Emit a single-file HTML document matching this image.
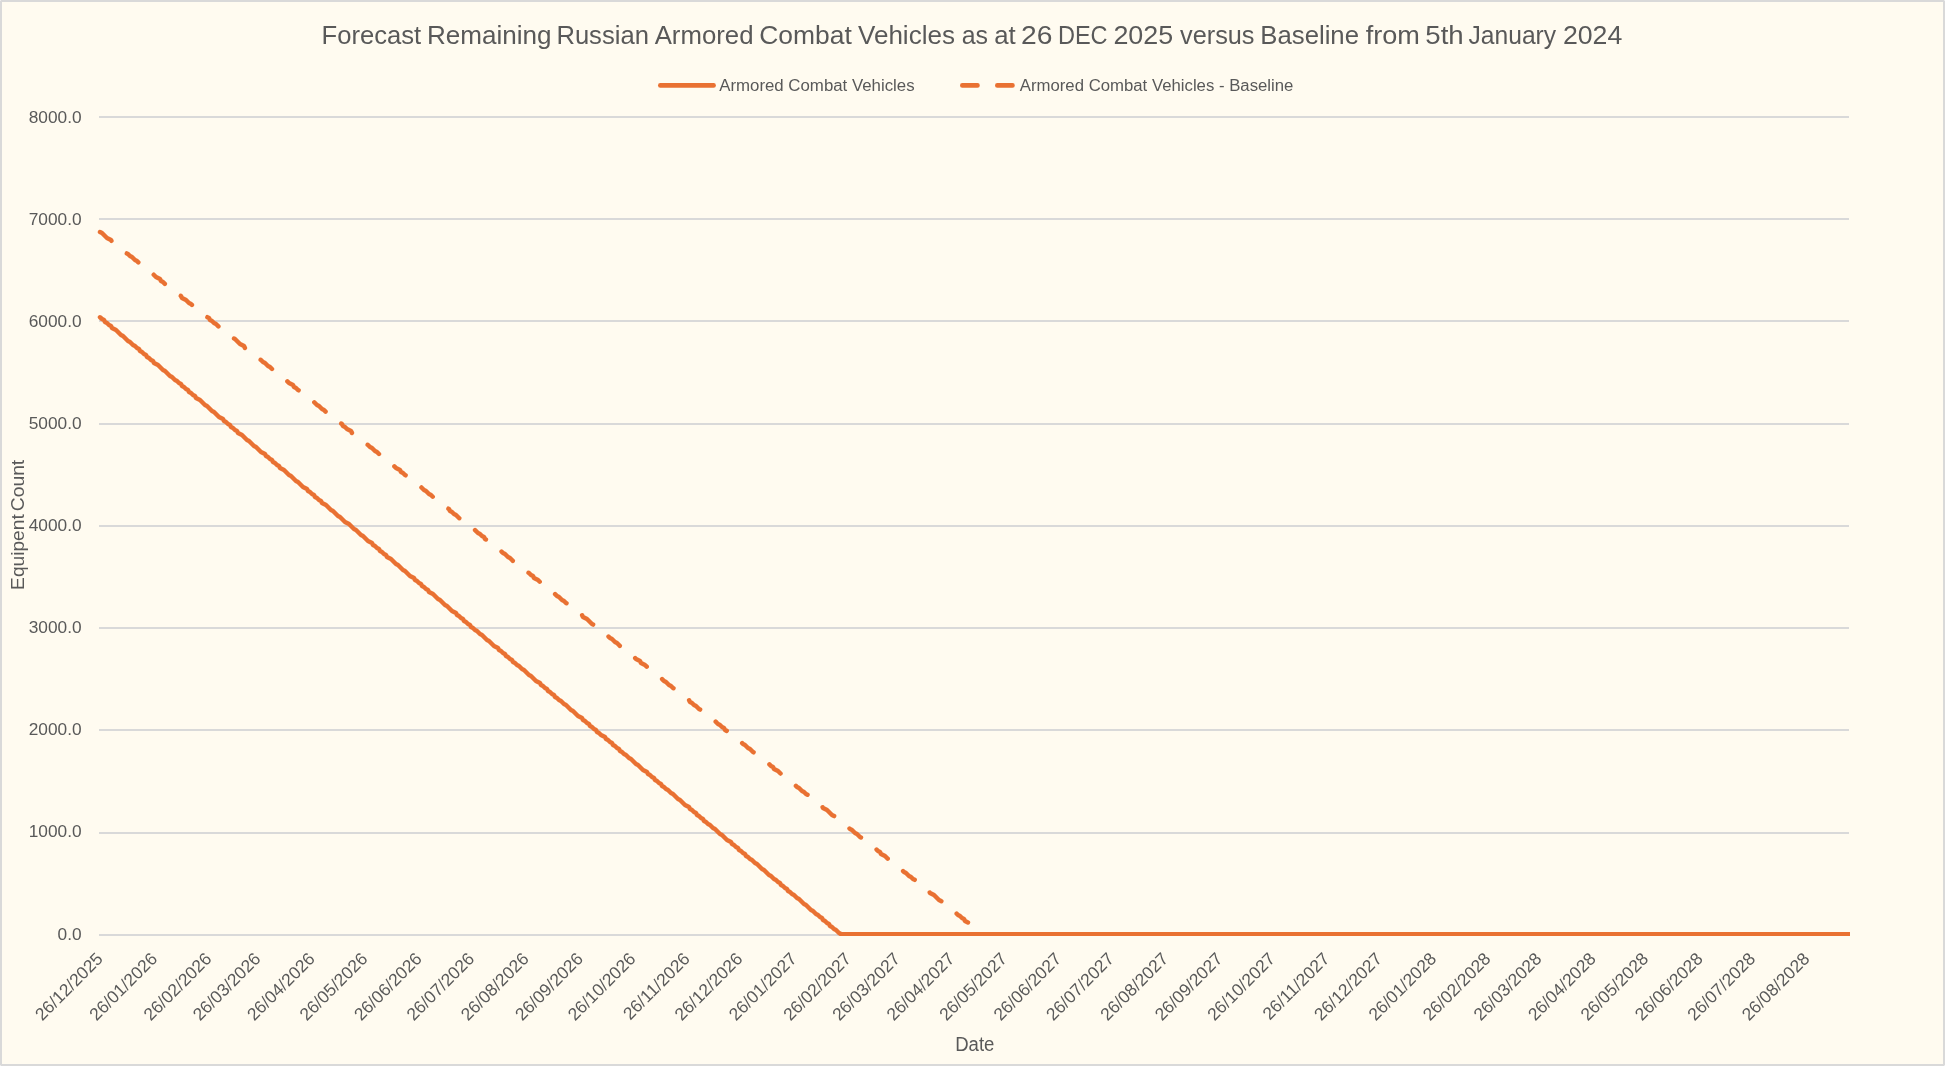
<!DOCTYPE html>
<html lang="en"><head><meta charset="utf-8">
<title>Forecast Remaining Russian Armored Combat Vehicles</title>
<style>
html,body{margin:0;padding:0;background:#FFFBF0;}
body{width:1945px;height:1066px;overflow:hidden;}
svg{display:block;will-change:transform;}
text{font-family:"Liberation Sans", Arial, sans-serif;fill:#595959;}
</style></head><body>
<svg width="1945" height="1066" viewBox="0 0 1945 1066">
<rect x="0" y="0" width="1945" height="1066" fill="#D9D9D9"/>
<rect x="2" y="2" width="1941" height="1062" fill="#FFFBF0"/>
<rect x="0" y="0" width="1" height="1" fill="#ECECEC"/>
<rect x="1944" y="0" width="1" height="1" fill="#ECECEC"/>
<rect x="0" y="1065" width="1" height="1" fill="#ECECEC"/>
<rect x="1944" y="1065" width="1" height="1" fill="#ECECEC"/>
<g stroke="#D9D9D9" stroke-width="2" shape-rendering="crispEdges">
<line x1="99" y1="117" x2="1849" y2="117"/>
<line x1="99" y1="219" x2="1849" y2="219"/>
<line x1="99" y1="321" x2="1849" y2="321"/>
<line x1="99" y1="424" x2="1849" y2="424"/>
<line x1="99" y1="526" x2="1849" y2="526"/>
<line x1="99" y1="628" x2="1849" y2="628"/>
<line x1="99" y1="730" x2="1849" y2="730"/>
<line x1="99" y1="833" x2="1849" y2="833"/>
<line x1="99" y1="935" x2="1849" y2="935"/>
</g>
<g font-size="17.3" text-anchor="end">
<text x="81.6" y="122.70">8000.0</text>
<text x="81.6" y="224.80">7000.0</text>
<text x="81.6" y="326.90">6000.0</text>
<text x="81.6" y="429.00">5000.0</text>
<text x="81.6" y="531.10">4000.0</text>
<text x="81.6" y="633.20">3000.0</text>
<text x="81.6" y="735.30">2000.0</text>
<text x="81.6" y="837.40">1000.0</text>
<text x="81.6" y="939.50">0.0</text>
</g>
<g font-size="17.45" text-anchor="end">
<text transform="translate(103.95 959.90) rotate(-45)">26/12/2025</text>
<text transform="translate(158.27 959.90) rotate(-45)">26/01/2026</text>
<text transform="translate(212.59 959.90) rotate(-45)">26/02/2026</text>
<text transform="translate(261.65 959.90) rotate(-45)">26/03/2026</text>
<text transform="translate(315.97 959.90) rotate(-45)">26/04/2026</text>
<text transform="translate(368.54 959.90) rotate(-45)">26/05/2026</text>
<text transform="translate(422.86 959.90) rotate(-45)">26/06/2026</text>
<text transform="translate(475.43 959.90) rotate(-45)">26/07/2026</text>
<text transform="translate(529.75 959.90) rotate(-45)">26/08/2026</text>
<text transform="translate(584.07 959.90) rotate(-45)">26/09/2026</text>
<text transform="translate(636.63 959.90) rotate(-45)">26/10/2026</text>
<text transform="translate(690.95 959.90) rotate(-45)">26/11/2026</text>
<text transform="translate(743.52 959.90) rotate(-45)">26/12/2026</text>
<text transform="translate(797.84 959.90) rotate(-45)">26/01/2027</text>
<text transform="translate(852.16 959.90) rotate(-45)">26/02/2027</text>
<text transform="translate(901.22 959.90) rotate(-45)">26/03/2027</text>
<text transform="translate(955.54 959.90) rotate(-45)">26/04/2027</text>
<text transform="translate(1008.11 959.90) rotate(-45)">26/05/2027</text>
<text transform="translate(1062.43 959.90) rotate(-45)">26/06/2027</text>
<text transform="translate(1115.00 959.90) rotate(-45)">26/07/2027</text>
<text transform="translate(1169.32 959.90) rotate(-45)">26/08/2027</text>
<text transform="translate(1223.64 959.90) rotate(-45)">26/09/2027</text>
<text transform="translate(1276.21 959.90) rotate(-45)">26/10/2027</text>
<text transform="translate(1330.53 959.90) rotate(-45)">26/11/2027</text>
<text transform="translate(1383.09 959.90) rotate(-45)">26/12/2027</text>
<text transform="translate(1437.41 959.90) rotate(-45)">26/01/2028</text>
<text transform="translate(1491.73 959.90) rotate(-45)">26/02/2028</text>
<text transform="translate(1542.55 959.90) rotate(-45)">26/03/2028</text>
<text transform="translate(1596.87 959.90) rotate(-45)">26/04/2028</text>
<text transform="translate(1649.44 959.90) rotate(-45)">26/05/2028</text>
<text transform="translate(1703.76 959.90) rotate(-45)">26/06/2028</text>
<text transform="translate(1756.32 959.90) rotate(-45)">26/07/2028</text>
<text transform="translate(1810.64 959.90) rotate(-45)">26/08/2028</text>
</g>
<path d="M100 232 L102 233 L104 235 L105 236 L107 238 L109 239 L111 240 L112 242 L114 243 L116 245 L118 246 L119 247 L121 249 L123 250 L125 252 L126 253 L128 254 L130 256 L132 257 L133 258 L135 260 L137 261 L139 263 L140 264 L142 265 L144 267 L146 268 L147 270 L149 271 L151 272 L153 274 L154 275 L156 277 L158 278 L160 279 L161 281 L163 282 L165 284 L167 285 L168 286 L170 288 L172 289 L174 291 L175 292 L177 293 L179 295 L181 296 L182 298 L184 299 L186 300 L188 302 L189 303 L191 304 L193 306 L195 307 L196 309 L198 310 L200 311 L202 313 L203 314 L205 316 L207 317 L209 318 L210 320 L212 321 L214 323 L216 324 L217 325 L219 327 L221 328 L223 330 L224 331 L226 332 L228 334 L230 335 L231 337 L233 338 L235 339 L237 341 L238 342 L240 344 L242 345 L244 346 L245 348 L247 349 L249 350 L251 352 L252 353 L254 355 L256 356 L258 357 L259 359 L261 360 L263 362 L265 363 L266 364 L268 366 L270 367 L272 369 L273 370 L275 371 L277 373 L279 374 L280 376 L282 377 L284 378 L286 380 L287 381 L289 383 L291 384 L293 385 L294 387 L296 388 L298 390 L300 391 L301 392 L303 394 L305 395 L307 396 L308 398 L310 399 L312 401 L314 402 L315 403 L317 405 L319 406 L321 408 L322 409 L324 410 L326 412 L328 413 L329 415 L331 416 L333 417 L335 419 L336 420 L338 422 L340 423 L342 424 L343 426 L345 427 L347 429 L349 430 L351 431 L352 433 L354 434 L356 436 L358 437 L359 438 L361 440 L363 441 L365 442 L366 444 L368 445 L370 447 L372 448 L373 449 L375 451 L377 452 L379 454 L380 455 L382 456 L384 458 L386 459 L387 461 L389 462 L391 463 L393 465 L394 466 L396 468 L398 469 L400 470 L401 472 L403 473 L405 475 L407 476 L408 477 L410 479 L412 480 L414 482 L415 483 L417 484 L419 486 L421 487 L422 488 L424 490 L426 491 L428 493 L429 494 L431 495 L433 497 L435 498 L436 500 L438 501 L440 502 L442 504 L443 505 L445 507 L447 508 L449 509 L450 511 L452 512 L454 514 L456 515 L457 516 L459 518 L461 519 L463 521 L464 522 L466 523 L468 525 L470 526 L471 528 L473 529 L475 530 L477 532 L478 533 L480 534 L482 536 L484 537 L485 539 L487 540 L489 541 L491 543 L492 544 L494 546 L496 547 L498 548 L499 550 L501 551 L503 553 L505 554 L506 555 L508 557 L510 558 L512 560 L513 561 L515 562 L517 564 L519 565 L520 567 L522 568 L524 569 L526 571 L527 572 L529 573 L531 575 L533 576 L534 578 L536 579 L538 580 L540 582 L541 583 L543 585 L545 586 L547 587 L548 589 L550 590 L552 592 L554 593 L555 594 L557 596 L559 597 L561 599 L562 600 L564 601 L566 603 L568 604 L569 606 L571 607 L573 608 L575 610 L576 611 L578 613 L580 614 L582 615 L583 617 L585 618 L587 619 L589 621 L590 622 L592 624 L594 625 L596 626 L597 628 L599 629 L601 631 L603 632 L605 633 L606 635 L608 636 L610 638 L612 639 L613 640 L615 642 L617 643 L619 645 L620 646 L622 647 L624 649 L626 650 L627 652 L629 653 L631 654 L633 656 L634 657 L636 659 L638 660 L640 661 L641 663 L643 664 L645 665 L647 667 L648 668 L650 670 L652 671 L654 672 L655 674 L657 675 L659 677 L661 678 L662 679 L664 681 L666 682 L668 684 L669 685 L671 686 L673 688 L675 689 L676 691 L678 692 L680 693 L682 695 L683 696 L685 698 L687 699 L689 700 L690 702 L692 703 L694 705 L696 706 L697 707 L699 709 L701 710 L703 711 L704 713 L706 714 L708 716 L710 717 L711 718 L713 720 L715 721 L717 723 L718 724 L720 725 L722 727 L724 728 L725 730 L727 731 L729 732 L731 734 L732 735 L734 737 L736 738 L738 739 L739 741 L741 742 L743 744 L745 745 L746 746 L748 748 L750 749 L752 751 L753 752 L755 753 L757 755 L759 756 L760 757 L762 759 L764 760 L766 762 L767 763 L769 764 L771 766 L773 767 L774 769 L776 770 L778 771 L780 773 L781 774 L783 776 L785 777 L787 778 L788 780 L790 781 L792 783 L794 784 L795 785 L797 787 L799 788 L801 790 L802 791 L804 792 L806 794 L808 795 L809 797 L811 798 L813 799 L815 801 L816 802 L818 803 L820 805 L822 806 L823 808 L825 809 L827 810 L829 812 L830 813 L832 815 L834 816 L836 817 L837 819 L839 820 L841 822 L843 823 L844 824 L846 826 L848 827 L850 829 L852 830 L853 831 L855 833 L857 834 L859 836 L860 837 L862 838 L864 840 L866 841 L867 843 L869 844 L871 845 L873 847 L874 848 L876 849 L878 851 L880 852 L881 854 L883 855 L885 856 L887 858 L888 859 L890 861 L892 862 L894 863 L895 865 L897 866 L899 868 L901 869 L902 870 L904 872 L906 873 L908 875 L909 876 L911 877 L913 879 L915 880 L916 882 L918 883 L920 884 L922 886 L923 887 L925 889 L927 890 L929 891 L930 893 L932 894 L934 895 L936 897 L937 898 L939 900 L941 901 L943 902 L944 904 L946 905 L948 907 L950 908 L951 909 L953 911 L955 912 L957 914 L958 915 L960 916 L962 918 L964 919 L965 921 L967 922 L969 923 L971 925 L972 926 L974 928 L976 929 L978 930 L979 932 L981 933 L983 934" fill="none" stroke="#E97132" stroke-width="4.5" stroke-linecap="round" stroke-linejoin="round" stroke-dasharray="14.729 20.243"/>
<clipPath id="plotClip"><rect x="90" y="100" width="1760" height="836"/></clipPath>
<g clip-path="url(#plotClip)" fill="none" stroke="#E97132" stroke-linecap="round" stroke-linejoin="round">
<path d="M100 317.3 L102 319 L104 320 L105 322 L107 323 L109 325 L111 326 L112 328 L114 329 L116 330 L118 332 L119 333 L121 335 L123 336 L125 338 L126 339 L128 341 L130 342 L132 344 L133 345 L135 346 L137 348 L139 349 L140 351 L142 352 L144 354 L146 355 L147 357 L149 358 L151 360 L153 361 L154 363 L156 364 L158 365 L160 367 L161 368 L163 370 L165 371 L167 373 L168 374 L170 376 L172 377 L174 379 L175 380 L177 381 L179 383 L181 384 L182 386 L184 387 L186 389 L188 390 L189 392 L191 393 L193 395 L195 396 L196 398 L198 399 L200 400 L202 402 L203 403 L205 405 L207 406 L209 408 L210 409 L212 411 L214 412 L216 414 L217 415 L219 417 L221 418 L223 419 L224 421 L226 422 L228 424 L230 425 L231 427 L233 428 L235 430 L237 431 L238 433 L240 434 L242 435 L244 437 L245 438 L247 440 L249 441 L251 443 L252 444 L254 446 L256 447 L258 449 L259 450 L261 452 L263 453 L265 454 L266 456 L268 457 L270 459 L272 460 L273 462 L275 463 L277 465 L279 466 L280 468 L282 469 L284 470 L286 472 L287 473 L289 475 L291 476 L293 478 L294 479 L296 481 L298 482 L300 484 L301 485 L303 487 L305 488 L307 489 L308 491 L310 492 L312 494 L314 495 L315 497 L317 498 L319 500 L321 501 L322 503 L324 504 L326 505 L328 507 L329 508 L331 510 L333 511 L335 513 L336 514 L338 516 L340 517 L342 519 L343 520 L345 522 L347 523 L349 524 L351 526 L352 527 L354 529 L356 530 L358 532 L359 533 L361 535 L363 536 L365 538 L366 539 L368 541 L370 542 L372 543 L373 545 L375 546 L377 548 L379 549 L380 551 L382 552 L384 554 L386 555 L387 557 L389 558 L391 559 L393 561 L394 562 L396 564 L398 565 L400 567 L401 568 L403 570 L405 571 L407 573 L408 574 L410 576 L412 577 L414 578 L415 580 L417 581 L419 583 L421 584 L422 586 L424 587 L426 589 L428 590 L429 592 L431 593 L433 594 L435 596 L436 597 L438 599 L440 600 L442 602 L443 603 L445 605 L447 606 L449 608 L450 609 L452 611 L454 612 L456 613 L457 615 L459 616 L461 618 L463 619 L464 621 L466 622 L468 624 L470 625 L471 627 L473 628 L475 630 L477 631 L478 632 L480 634 L482 635 L484 637 L485 638 L487 640 L489 641 L491 643 L492 644 L494 646 L496 647 L498 648 L499 650 L501 651 L503 653 L505 654 L506 656 L508 657 L510 659 L512 660 L513 662 L515 663 L517 665 L519 666 L520 667 L522 669 L524 670 L526 672 L527 673 L529 675 L531 676 L533 678 L534 679 L536 681 L538 682 L540 683 L541 685 L543 686 L545 688 L547 689 L548 691 L550 692 L552 694 L554 695 L555 697 L557 698 L559 700 L561 701 L562 702 L564 704 L566 705 L568 707 L569 708 L571 710 L573 711 L575 713 L576 714 L578 716 L580 717 L582 718 L583 720 L585 721 L587 723 L589 724 L590 726 L592 727 L594 729 L596 730 L597 732 L599 733 L601 735 L603 736 L605 737 L606 739 L608 740 L610 742 L612 743 L613 745 L615 746 L617 748 L619 749 L620 751 L622 752 L624 754 L626 755 L627 756 L629 758 L631 759 L633 761 L634 762 L636 764 L638 765 L640 767 L641 768 L643 770 L645 771 L647 772 L648 774 L650 775 L652 777 L654 778 L655 780 L657 781 L659 783 L661 784 L662 786 L664 787 L666 789 L668 790 L669 791 L671 793 L673 794 L675 796 L676 797 L678 799 L680 800 L682 802 L683 803 L685 805 L687 806 L689 807 L690 809 L692 810 L694 812 L696 813 L697 815 L699 816 L701 818 L703 819 L704 821 L706 822 L708 824 L710 825 L711 826 L713 828 L715 829 L717 831 L718 832 L720 834 L722 835 L724 837 L725 838 L727 840 L729 841 L731 842 L732 844 L734 845 L736 847 L738 848 L739 850 L741 851 L743 853 L745 854 L746 856 L748 857 L750 859 L752 860 L753 861 L755 863 L757 864 L759 866 L760 867 L762 869 L764 870 L766 872 L767 873 L769 875 L771 876 L773 878 L774 879 L776 880 L778 882 L780 883 L781 885 L783 886 L785 888 L787 889 L788 891 L790 892 L792 894 L794 895 L795 896 L797 898 L799 899 L801 901 L802 902 L804 904 L806 905 L808 907 L809 908 L811 910 L813 911 L815 913 L816 914 L818 915 L820 917 L822 918 L823 920 L825 921 L827 923 L829 924 L830 926 L832 927 L834 929 L836 930 L837 931 L839 933 L841 934" stroke-width="4.5"/>
<path d="M841 934 L1849.4 934" stroke-width="4"/>
</g>
<text y="43.7" font-size="25.5"><tspan x="321.50" textLength="99.70" lengthAdjust="spacingAndGlyphs">Forecast</tspan> <tspan x="427.00" textLength="124.60" lengthAdjust="spacingAndGlyphs">Remaining</tspan> <tspan x="556.40" textLength="92.50" lengthAdjust="spacingAndGlyphs">Russian</tspan> <tspan x="654.70" textLength="98.80" lengthAdjust="spacingAndGlyphs">Armored</tspan> <tspan x="759.30" textLength="92.50" lengthAdjust="spacingAndGlyphs">Combat</tspan> <tspan x="858.00" textLength="96.90" lengthAdjust="spacingAndGlyphs">Vehicles</tspan> <tspan x="961.70" textLength="26.30" lengthAdjust="spacingAndGlyphs">as</tspan> <tspan x="994.20" textLength="21.50" lengthAdjust="spacingAndGlyphs">at</tspan> <tspan x="1021.00" textLength="31.40" lengthAdjust="spacingAndGlyphs">26</tspan> <tspan x="1057.90" textLength="49.70" lengthAdjust="spacingAndGlyphs">DEC</tspan> <tspan x="1113.40" textLength="59.80" lengthAdjust="spacingAndGlyphs">2025</tspan> <tspan x="1180.00" textLength="74.50" lengthAdjust="spacingAndGlyphs">versus</tspan> <tspan x="1260.30" textLength="98.70" lengthAdjust="spacingAndGlyphs">Baseline</tspan> <tspan x="1365.70" textLength="54.20" lengthAdjust="spacingAndGlyphs">from</tspan> <tspan x="1425.30" textLength="38.40" lengthAdjust="spacingAndGlyphs">5th</tspan> <tspan x="1468.50" textLength="87.60" lengthAdjust="spacingAndGlyphs">January</tspan> <tspan x="1562.90" textLength="59.40" lengthAdjust="spacingAndGlyphs">2024</tspan></text>
<line x1="660.3" y1="85.4" x2="713.6" y2="85.4" stroke="#E97132" stroke-width="4.6" stroke-linecap="round"/>
<text x="719.2" y="90.5" font-size="15.6" textLength="195.4" lengthAdjust="spacingAndGlyphs">Armored Combat Vehicles</text>
<line x1="962.3" y1="85.4" x2="1013" y2="85.4" stroke="#E97132" stroke-width="4.6" stroke-linecap="round" stroke-dasharray="15.2 19.8"/>
<text x="1019.8" y="90.5" font-size="15.6" textLength="273.6" lengthAdjust="spacingAndGlyphs">Armored Combat Vehicles - Baseline</text>
<text transform="translate(24.2 0) rotate(-90)" font-size="19.0"><tspan x="-589.9" textLength="75.6" lengthAdjust="spacingAndGlyphs">Equipent</tspan> <tspan x="-511.2" textLength="51.4" lengthAdjust="spacingAndGlyphs">Count</tspan></text>
<text x="955.2" y="1051" font-size="20" textLength="39.2" lengthAdjust="spacingAndGlyphs">Date</text>
</svg>
</body></html>
